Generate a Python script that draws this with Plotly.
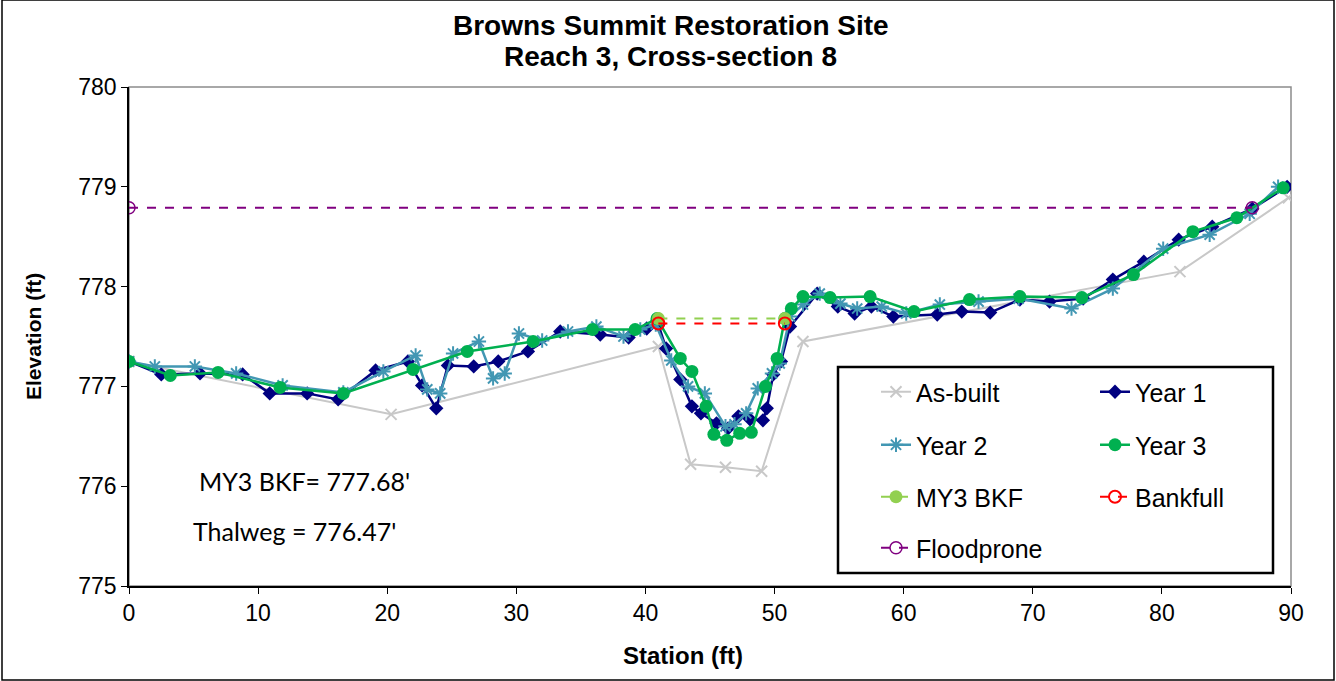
import plotly.graph_objects as go

# ---------------- data ----------------
asbuilt_x = [0, 20.3, 41.0, 43.5, 46.2, 49.0, 52.2, 81.4, 89.8]
asbuilt_y = [777.25, 776.72, 777.40, 776.22, 776.19, 776.15, 777.45, 778.15, 778.89]

year1_x = [0, 2.5, 5.5, 8.8, 10.9, 13.8, 16.2, 19.1, 21.6, 22.7, 23.8, 24.7, 26.7, 28.6, 30.9,
           33.4, 36.5, 38.7, 40.1, 41.0, 41.6, 42.7, 43.6, 44.3, 45.5, 46.4, 47.2, 48.1, 49.1,
           49.4, 49.9, 50.5, 51.2, 53.3, 54.9, 56.2, 57.5, 59.2, 62.6, 64.5, 66.7, 69.0, 71.3,
           73.9, 76.2, 78.6, 81.3, 83.9, 87.0, 89.7]
year1_y = [777.25, 777.12, 777.13, 777.12, 776.93, 776.93, 776.87, 777.16, 777.25, 777.01,
           776.78, 777.21, 777.20, 777.25, 777.35, 777.55, 777.52, 777.49, 777.58, 777.62,
           777.38, 777.07, 776.80, 776.73, 776.63, 776.58, 776.70, 776.67, 776.66, 776.78,
           777.12, 777.25, 777.60, 777.93, 777.80, 777.73, 777.80, 777.70, 777.72, 777.75,
           777.74, 777.87, 777.85, 777.88, 778.07, 778.25, 778.47, 778.60, 778.78, 779.00]

year2_x = [0, 2.0, 5.1, 8.3, 11.9, 16.6, 19.7, 22.2, 23.1, 24.1, 25.1, 27.1, 28.2, 29.1, 30.2,
           32.0, 34.0, 36.2, 38.3, 39.6, 40.8, 42.0, 43.3, 44.6, 46.2, 46.9, 47.8, 48.7, 49.8,
           50.4, 51.2, 52.2, 53.5, 55.1, 56.4, 58.3, 60.2, 62.8, 65.8, 68.9, 73.0, 76.2, 80.1,
           83.7, 86.8, 89.0]
year2_y = [777.25, 777.20, 777.20, 777.13, 777.01, 776.94, 777.15, 777.31, 776.97, 776.93,
           777.33, 777.45, 777.08, 777.13, 777.53, 777.46, 777.55, 777.60, 777.50, 777.57,
           777.62, 777.26, 777.00, 776.93, 776.60, 776.62, 776.73, 776.98, 777.13, 777.23,
           777.70, 777.82, 777.93, 777.83, 777.78, 777.80, 777.73, 777.82, 777.85, 777.88,
           777.78, 777.98, 778.38, 778.52, 778.73, 779.00]

year3_x = [0, 3.2, 6.9, 11.7, 16.6, 22.0, 26.2, 31.3, 35.9, 39.2, 40.9, 42.7, 43.6, 44.7, 45.3,
           46.3, 47.3, 48.2, 49.3, 50.2, 50.8, 51.3, 52.2, 54.3, 57.4, 60.8, 65.1, 69.0, 73.8,
           77.8, 82.4, 85.8, 89.4]
year3_y = [777.25, 777.11, 777.14, 776.99, 776.93, 777.17, 777.35, 777.45, 777.57, 777.57,
           777.68, 777.28, 777.15, 776.80, 776.52, 776.46, 776.53, 776.54, 777.00, 777.28,
           777.68, 777.78, 777.90, 777.89, 777.90, 777.75, 777.87, 777.90, 777.89, 778.12,
           778.55, 778.69, 778.99]

my3bkf_x = [41.0, 50.8]
my3bkf_y = [777.68, 777.68]
bankfull_x = [41.0, 50.8]
bankfull_y = [777.63, 777.63]
floodprone_x = [0, 87.0]
floodprone_y = [778.79, 778.79]

x_ticks = [0, 10, 20, 30, 40, 50, 60, 70, 80, 90]
y_ticks = [775, 776, 777, 778, 779, 780]

title_line1 = "Browns Summit Restoration Site"
title_line2 = "Reach 3, Cross-section 8"
note1 = "MY3 BKF= 777.68'"
note2 = "Thalweg = 776.47'"

# ---------------- layout geometry ----------------
W, H = 1336, 681
L, R, T, B = 129, 1291, 87, 586
pw, ph = R - L, B - T
ARIAL = "Arial"


def px2paper_x(px):
    return (px - L) / pw


def px2paper_y(py):
    return (B - py) / ph


fig = go.Figure()

fig.add_trace(go.Scatter(x=asbuilt_x, y=asbuilt_y, name="As-built", mode="lines+markers",
                         line=dict(color="#C8C8C8", width=2),
                         marker=dict(symbol="x-thin-open", size=11, line=dict(color="#C8C8C8", width=2)),
                         legend="legend"))
fig.add_trace(go.Scatter(x=year1_x, y=year1_y, name="Year 1", mode="lines+markers",
                         line=dict(color="#000080", width=2.5),
                         marker=dict(symbol="diamond", size=11, color="#000080"),
                         legend="legend2"))
fig.add_trace(go.Scatter(x=year2_x, y=year2_y, name="Year 2", mode="lines+markers",
                         line=dict(color="#4297B3", width=2.5),
                         marker=dict(symbol="asterisk-open", size=12, line=dict(color="#4297B3", width=2)),
                         legend="legend3"))
fig.add_trace(go.Scatter(x=year3_x, y=year3_y, name="Year 3", mode="lines+markers",
                         line=dict(color="#00B050", width=2.5),
                         marker=dict(symbol="circle", size=13, color="#00B050"),
                         legend="legend4"))
fig.add_trace(go.Scatter(x=my3bkf_x, y=my3bkf_y, name="MY3 BKF", mode="lines+markers",
                         line=dict(color="#92D050", width=2, dash="dash"),
                         marker=dict(symbol="circle", size=13, color="#92D050"),
                         legend="legend5"))
fig.add_trace(go.Scatter(x=bankfull_x, y=bankfull_y, name="Bankfull", mode="lines+markers",
                         line=dict(color="#FF0000", width=2, dash="dash"),
                         marker=dict(symbol="circle-open", size=12, line=dict(color="#FF0000", width=2)),
                         legend="legend6"))
fig.add_trace(go.Scatter(x=floodprone_x, y=floodprone_y, name="Floodprone", mode="lines+markers",
                         line=dict(color="#800080", width=2, dash="dash"),
                         marker=dict(symbol="circle-open", size=12, line=dict(color="#800080", width=1.5)),
                         legend="legend7"))

leg_font = dict(family=ARIAL, size=25, color="black")
col_x = [px2paper_x(916 - 40), px2paper_x(1135 - 40)]
row_y = [px2paper_y(py) for py in (392, 445, 497, 548)]
positions = {
    "legend": (col_x[0], row_y[0]),
    "legend2": (col_x[1], row_y[0]),
    "legend3": (col_x[0], row_y[1]),
    "legend4": (col_x[1], row_y[1]),
    "legend5": (col_x[0], row_y[2]),
    "legend6": (col_x[1], row_y[2]),
    "legend7": (col_x[0], row_y[3]),
}
legend_layout = {}
for k, (lx, ly) in positions.items():
    legend_layout[k] = dict(x=lx, y=ly, xanchor="left", yanchor="middle",
                            bgcolor="rgba(0,0,0,0)", borderwidth=0, font=leg_font)

fig.update_layout(
    width=W, height=H,
    margin=dict(l=L, r=W - R, t=T, b=H - B, pad=0),
    paper_bgcolor="white", plot_bgcolor="white",
    showlegend=True,
    font=dict(family=ARIAL, color="black"),
    **legend_layout,
)

fig.update_xaxes(range=[0, 90], tickmode="array", tickvals=x_ticks, ticks="outside", ticklen=6,
                 tickwidth=1, tickcolor="black", showline=True, linecolor="black", linewidth=1.5,
                 showgrid=False, zeroline=False, tickfont=dict(family=ARIAL, size=23, color="black"))
fig.update_yaxes(range=[775, 780], tickmode="array", tickvals=y_ticks, ticks="outside", ticklen=6,
                 tickwidth=1, tickcolor="black", showline=True, linecolor="black", linewidth=1.5,
                 showgrid=False, zeroline=False, tickfont=dict(family=ARIAL, size=23, color="black"))

shapes = [
    dict(type="rect", xref="paper", yref="paper", x0=0, x1=1, y0=0, y1=1,
         line=dict(color="#8C8C8C", width=1.5), layer="below"),
    dict(type="rect", xref="paper", yref="paper",
         x0=px2paper_x(838), x1=px2paper_x(1273), y0=px2paper_y(573), y1=px2paper_y(367),
         line=dict(color="black", width=2.5), fillcolor="white", layer="below"),
    dict(type="rect", xref="paper", yref="paper",
         x0=px2paper_x(2), x1=px2paper_x(1334), y0=px2paper_y(680), y1=px2paper_y(0),
         line=dict(color="black", width=1.5)),
]

annotations = [
    dict(text="<b>" + title_line1 + "</b>", xref="paper", yref="paper", x=px2paper_x(671), y=px2paper_y(25),
         xanchor="center", yanchor="middle", showarrow=False,
         font=dict(family=ARIAL, size=28, color="black")),
    dict(text="<b>" + title_line2 + "</b>", xref="paper", yref="paper", x=px2paper_x(670), y=px2paper_y(57),
         xanchor="center", yanchor="middle", showarrow=False,
         font=dict(family=ARIAL, size=28, color="black")),
    dict(text="<b>Station (ft)</b>", xref="paper", yref="paper", x=px2paper_x(683), y=px2paper_y(655),
         xanchor="center", yanchor="middle", showarrow=False,
         font=dict(family=ARIAL, size=24, color="black")),
    dict(text="<b>Elevation (ft)</b>", xref="paper", yref="paper", x=px2paper_x(33), y=px2paper_y(336),
         xanchor="center", yanchor="middle", showarrow=False, textangle=-90,
         font=dict(family=ARIAL, size=21, color="black")),
    dict(text=note1, xref="paper", yref="paper", x=px2paper_x(197), y=px2paper_y(481),
         xanchor="left", yanchor="middle", showarrow=False,
         font=dict(family="Lato, sans-serif", size=25, color="black")),
    dict(text=note2, xref="paper", yref="paper", x=px2paper_x(191), y=px2paper_y(531),
         xanchor="left", yanchor="middle", showarrow=False,
         font=dict(family="Lato, sans-serif", size=25, color="black")),
]

fig.update_layout(shapes=shapes, annotations=annotations)

fig.write_html("out.html")
